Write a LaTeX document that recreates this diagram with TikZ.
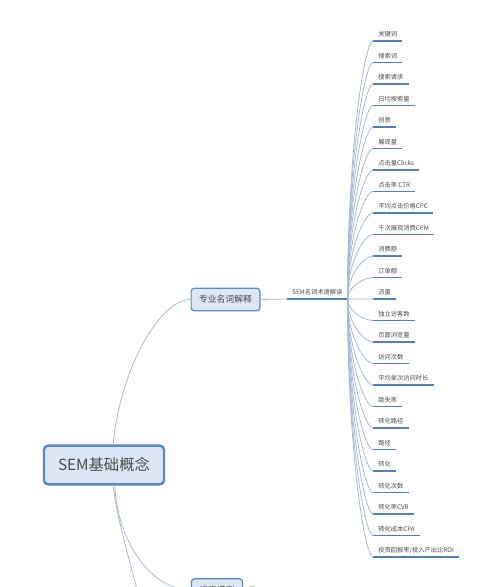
\documentclass[tikz,border=0pt]{standalone}
\usepackage{fontspec}
\setmainfont{Noto Sans CJK SC}
\usepackage{tikz}
\usetikzlibrary{calc, positioning}
\definecolor{boxfill}{HTML}{DCE6F4}
\definecolor{boxline}{HTML}{5B87C4}
\definecolor{ulinecolor}{HTML}{4F7FC1}
\definecolor{twigcolor}{HTML}{A7BBD9}
\definecolor{labelcolor}{HTML}{4A4A4A}

\begin{document}
\begin{tikzpicture}[x=0.75pt, y=-0.75pt,
    rootbox/.style={draw=boxline, line width=1.8pt, fill=boxfill, rounded corners=3pt,
        minimum width=90pt, minimum height=29pt, font=\fontsize{11.5}{13}\selectfont, text=labelcolor},
    topicbox/.style={draw=boxline, line width=0.9pt, fill=boxfill, rounded corners=2.5pt,
        minimum height=17pt, inner xsep=6pt, font=\fontsize{6.6}{8}\selectfont, text=labelcolor},
    leaf/.style={anchor=south west, inner xsep=3.75pt, inner ysep=3pt, text depth=0pt,
        font=\fontsize{4.7}{5.5}\selectfont, text=labelcolor},
    uline/.style={ulinecolor, line width=1.3pt},
    twig/.style={twigcolor, line width=0.6pt},
    foldmark/.style={circle, draw=gray!60, line width=0.5pt, minimum size=6pt, inner sep=0pt}]

    \useasboundingbox (0,0) rectangle (500,587);

    % Main topics
    \node[rootbox] (root) at (104,465) {SEM基础概念};
    \node[topicbox] (term) at (225.5,299.5) {专业名词解释};
    \node[topicbox] (model) at (217,590) {搜索模型};
    \node[foldmark, right=3.5pt of model] (fold) {};
    \coordinate (next) at (148,640);

    % Branches of the root
    \draw[twig] (root.66) .. controls +(7,-75) and +(-31,0) .. (term.west);
    \draw[twig] (root.-62) .. controls +(2,55) and +(-40,0) .. (model.west);
    \draw[twig] (root.-66) .. controls +(5,45) and +(-8,-50) .. (next);

    % SEM terms
    \node[leaf] (sr) at (287,299) {SEM名词术语解读};
    \draw[uline] (sr.south west) -- (sr.south east);
    \draw[twig] (term.east) -- (sr.south west);
    \coordinate (hub) at (sr.south east);

    \foreach \word [count=\i from 0] in {关键词, 搜索词, 搜索请求, 日均搜索量, 创意, 展现量,
        点击量Clicks, 点击率 CTR, 平均点击价格CPC, 千次展现消费CPM, 消费额, 订单额, 流量,
        独立访客数, 页面浏览量, 访问次数, 平均单次访问时长, 跳失率, 转化路径, 路径, 转化,
        转化次数, 转化率CVR, 转化成本CPA, 投资回报率/投入产出比ROI} {
        \node[leaf] (k\i) at (373,{41+21.5*\i}) {\word};
        \draw[uline] (k\i.south west) -- (k\i.south east);
        \draw[twig] (hub) .. controls ($(hub)!0.6!(hub |- k\i.south west)$) and +(-8,0) .. (k\i.south west);
    }
\end{tikzpicture}
\end{document}
